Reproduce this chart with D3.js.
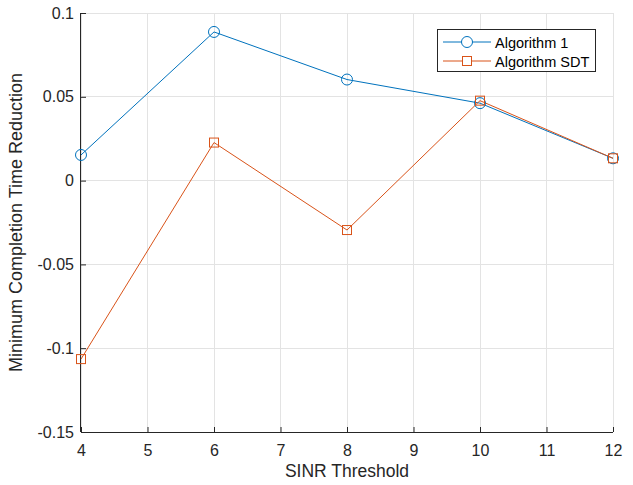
<!DOCTYPE html>
<html><head><meta charset="utf-8">
<script src="https://cdn.jsdelivr.net/npm/d3@7"></script>
<style>body{margin:0;background:#fff}svg{display:block}text{font-family:"Liberation Sans",Arial,Helvetica,sans-serif}</style>
</head><body><svg id="c" width="633" height="485"></svg>
<script>
const xValues = [4, 6, 8, 10, 12];
const alg1 = [0.0153, 0.0887, 0.0603, 0.0462, 0.0133];
const algSDT = [-0.1065, 0.0227, -0.0295, 0.0477, 0.0133];
const seriesNames = ["Algorithm 1", "Algorithm SDT"];
const xTicks = [4,5,6,7,8,9,10,11,12];
const yTicks = [-0.15,-0.1,-0.05,0,0.05,0.1];
const xLabel = "SINR Threshold";
const yLabel = "Minimum Completion Time Reduction";

const L=81, R=613, T=13, B=432;
const svg=d3.select("#c");
const x=d3.scaleLinear().domain([4,12]).range([L,R]);
const y=d3.scaleLinear().domain([-0.15,0.1]).range([B,T]);
const axisColor="#262626";
// grid
svg.append("g").selectAll("line").data(xTicks).join("line")
 .attr("x1",d=>x(d)).attr("x2",d=>x(d)).attr("y1",T).attr("y2",B)
 .attr("stroke","#e3e3e3").attr("stroke-width",1).attr("shape-rendering","crispEdges");
svg.append("g").selectAll("line").data(yTicks).join("line")
 .attr("x1",L).attr("x2",R).attr("y1",d=>y(d)).attr("y2",d=>y(d))
 .attr("stroke","#e3e3e3").attr("stroke-width",1).attr("shape-rendering","crispEdges");
// axes
const fmt=d=>String(d);
const xa=svg.append("g").attr("transform",`translate(0,${B})`)
 .call(d3.axisBottom(x).tickValues(xTicks).tickFormat(fmt).tickSizeInner(-5).tickSizeOuter(0).tickPadding(13));
const ya=svg.append("g").attr("transform",`translate(${L},0)`)
 .call(d3.axisLeft(y).tickValues(yTicks).tickFormat(fmt).tickSizeInner(-5).tickSizeOuter(0).tickPadding(7));
[xa,ya].forEach(a=>{
 a.selectAll("path").attr("stroke",axisColor).attr("stroke-width",1);
 a.selectAll("line").attr("stroke",axisColor);
 a.selectAll("text").attr("fill",axisColor).style("font-size","16px").style("font-family",'"Liberation Sans",Arial,sans-serif');
});
xa.select(".domain").attr("d",`M${L},0.5H${R}`);
ya.select(".domain").attr("d",`M-0.5,${T}V${B}`);
// labels
svg.append("text").attr("x",(L+R)/2).attr("y",477).attr("text-anchor","middle")
 .attr("fill",axisColor).style("font-size","17.5px").text(xLabel);
svg.append("text").attr("transform",`translate(22,${(T+B)/2}) rotate(-90)`).attr("text-anchor","middle")
 .attr("fill",axisColor).style("font-size","18px").text(yLabel);
// lines
const colors=["#0072BD","#D95319"];
const series=[alg1,algSDT];
const line=d3.line().x((d,i)=>x(xValues[i])).y(d=>y(d));
series.forEach((s,k)=>{
 svg.append("path").datum(s).attr("d",line).attr("fill","none").attr("stroke",colors[k]).attr("stroke-width",1);
});
// markers
svg.append("g").selectAll("circle").data(alg1).join("circle")
 .attr("cx",(d,i)=>x(xValues[i])).attr("cy",d=>y(d)).attr("r",5.5)
 .attr("fill","none").attr("stroke",colors[0]).attr("stroke-width",1);
svg.append("g").selectAll("rect").data(algSDT).join("rect")
 .attr("x",(d,i)=>x(xValues[i])-4.5).attr("y",d=>y(d)-4.5).attr("width",9).attr("height",9)
 .attr("fill","none").attr("stroke",colors[1]).attr("stroke-width",1);
// legend
const lg=svg.append("g");
lg.append("rect").attr("x",437.5).attr("y",29.5).attr("width",158).attr("height",42)
 .attr("fill","#fff").attr("stroke",axisColor).attr("stroke-width",1);
seriesNames.forEach((n,k)=>{
 const yy=42+k*19;
 lg.append("line").attr("x1",443).attr("x2",491).attr("y1",yy).attr("y2",yy).attr("stroke",colors[k]);
 if(k===0) lg.append("circle").attr("cx",467).attr("cy",yy).attr("r",5.5).attr("fill","#fff").attr("stroke",colors[k]);
 else lg.append("rect").attr("x",462.5).attr("y",yy-4.5).attr("width",9).attr("height",9).attr("fill","#fff").attr("stroke",colors[k]);
 lg.append("text").attr("x",495).attr("y",yy+5.5).attr("fill","#000").style("font-size","14.5px").text(n);
});
</script></body></html>
